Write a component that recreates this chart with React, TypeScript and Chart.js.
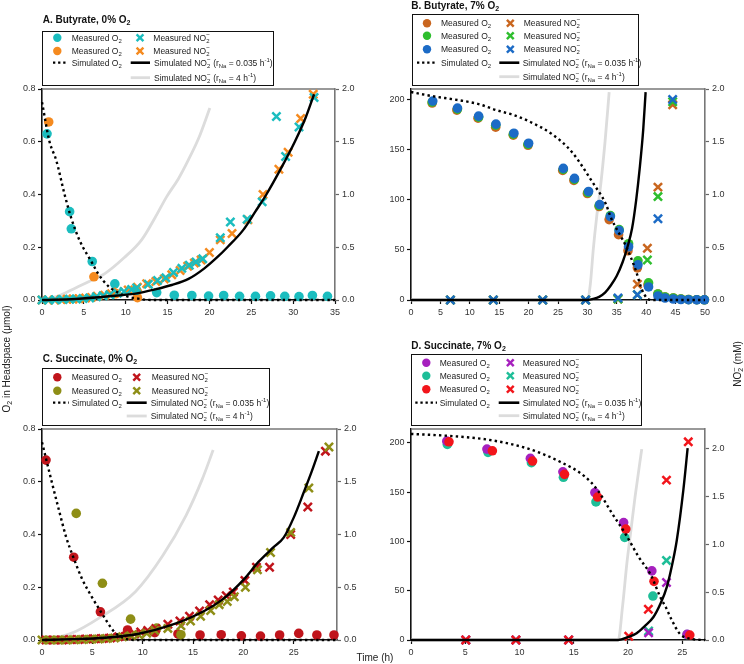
import React, { useEffect, useRef } from 'react';
import { Chart, registerables } from 'chart.js';

Chart.register(...registerables);

const FONT = '"Liberation Sans", Arial, Helvetica, sans-serif';

type Pts = [number, number][];

// ---------- colours ----------
const CYAN = '#1BBDBF';
const ORANGE = '#F58A1F';
const BROWN = '#C9661F';
const GREEN = '#2EBE2E';
const BLUE = '#1C6BC6';
const DARKRED = '#C0141B';
const OLIVE = '#8E8E16';
const PURPLE = '#A620BE';
const TEAL = '#1EBE98';
const RED = '#F2151B';
const SIM_GRAY = '#DCDCDC';

// ---------- tick labels ----------
const A_XTICKS = [0, 5, 10, 15, 20, 25, 30, 35];
const B_XTICKS = [0, 5, 10, 15, 20, 25, 30, 35, 40, 45, 50];
const C_XTICKS = [0, 5, 10, 15, 20, 25];
const D_XTICKS = [0, 5, 10, 15, 20, 25];
const UMOL_TICKS_0 = [0, 0.2, 0.4, 0.6, 0.8];
const UMOL_TICKS_7 = [0, 50, 100, 150, 200];
const MM_TICKS = [0, 0.5, 1.0, 1.5, 2.0];

// ---------- Panel A: Butyrate, 0% O2 ----------
const A_O2_CYAN: Pts = [[0.6, 0.63], [3.3, 0.335], [3.5, 0.27], [6.0, 0.146], [8.7, 0.061], [11.3, 0.037], [13.7, 0.028], [15.8, 0.018], [17.9, 0.017], [19.9, 0.015], [21.7, 0.017], [23.6, 0.014], [25.5, 0.014], [27.3, 0.016], [29.0, 0.014], [30.7, 0.013], [32.3, 0.017], [34.1, 0.014]];
const A_O2_ORANGE: Pts = [[0.8, 0.675], [6.2, 0.088], [8.85, 0.024], [11.4, 0.009]];
const A_NO2_CYAN: Pts = [[0, 0], [0.8, 0], [1.6, 0.002], [2.5, 0.005], [3.3, 0.008], [4.1, 0.01], [4.9, 0.015], [5.7, 0.02], [6.5, 0.03], [7.3, 0.04], [8.1, 0.05], [9.0, 0.065], [9.8, 0.08], [10.7, 0.1], [11.3, 0.115], [12.7, 0.15], [13.8, 0.185], [14.8, 0.21], [15.7, 0.26], [16.7, 0.3], [17.6, 0.33], [18.4, 0.36], [19.2, 0.39], [21.3, 0.59], [22.5, 0.74], [24.5, 0.765], [26.3, 0.93], [28.0, 1.74], [29.1, 1.36], [30.7, 1.64], [32.5, 1.92]];
const A_NO2_ORANGE: Pts = [[0, 0], [0.7, 0], [1.5, 0], [2.3, 0.005], [3.0, 0.008], [3.7, 0.01], [4.4, 0.012], [5.2, 0.018], [5.9, 0.025], [6.6, 0.035], [7.5, 0.045], [8.3, 0.06], [9.1, 0.075], [10.3, 0.095], [11.4, 0.12], [12.5, 0.155], [13.6, 0.175], [14.6, 0.2], [15.5, 0.24], [16.5, 0.28], [17.4, 0.32], [18.2, 0.35], [19.0, 0.38], [20.0, 0.45], [21.3, 0.57], [22.7, 0.63], [24.6, 0.76], [26.4, 1.0], [28.3, 1.24], [29.4, 1.4], [30.9, 1.72], [32.4, 1.95]];
const A_SIM_O2: Pts = [[0, 0.75], [0.9, 0.6], [1.7, 0.53], [2.7, 0.4], [3.5, 0.31], [4.5, 0.225], [6.0, 0.14], [6.7, 0.1], [8.0, 0.05], [8.7, 0.035], [10.0, 0.015], [11.5, 0.005], [13.0, 0], [35, 0]];
const A_SIM_NO2_SLOW: Pts = [[0, 0], [4, 0.01], [8, 0.035], [11.5, 0.065], [13.5, 0.1], [15.5, 0.142], [17.5, 0.2], [19.4, 0.3], [21, 0.41], [22.2, 0.505], [24, 0.66], [25.5, 0.84], [26.8, 1.0], [28.5, 1.24], [30.2, 1.5], [31.5, 1.73], [32.5, 1.95]];
const A_SIM_NO2_FAST: Pts = [[0, 0], [2, 0.04], [3.5, 0.095], [5.5, 0.17], [7.5, 0.25], [9.8, 0.4], [11.9, 0.57], [13.5, 0.78], [14.9, 0.98], [16.3, 1.15], [17.5, 1.33], [18.8, 1.55], [20.05, 1.82]];

// ---------- Panel B: Butyrate, 7% O2 ----------
const B_O2_BROWN: Pts = [[3.6, 196], [7.8, 189], [11.4, 181], [14.4, 172], [17.4, 164], [19.9, 154], [25.8, 129], [27.7, 119], [30.0, 106], [32.0, 93], [33.7, 80], [35.3, 65], [36.9, 49], [38.5, 32], [40.3, 15], [42.0, 6], [43.2, 3], [44.6, 2], [45.9, 1], [47.2, 0.5], [48.6, 0.3], [49.9, 0.2]];
const B_O2_GREEN: Pts = [[3.6, 197], [7.9, 190], [11.5, 182], [14.4, 174], [17.4, 165], [19.9, 155], [25.9, 130], [27.8, 120], [30.1, 107], [32.0, 94], [33.9, 84], [35.4, 70], [37.0, 56], [38.6, 39], [40.4, 17], [42.0, 6], [43.2, 3], [44.6, 2], [45.9, 1], [47.2, 0.5], [48.6, 0.3], [49.9, 0.2]];
const B_O2_BLUE: Pts = [[3.7, 198], [7.9, 191], [11.5, 183], [14.45, 175], [17.5, 166], [20.0, 156], [25.9, 131], [27.8, 121], [30.2, 108], [32.1, 95], [33.9, 83], [35.4, 69], [37.0, 53], [38.6, 35], [40.4, 13], [42.0, 4], [43.2, 2], [44.6, 1], [45.9, 0.5], [47.2, 0.3], [48.6, 0.2], [49.9, 0.2]];
const B_NO2_BROWN: Pts = [[6.7, 0], [14.0, 0], [22.4, 0], [29.7, 0], [35.2, 0.01], [38.5, 0.15], [40.2, 0.49], [42.0, 1.07], [44.5, 1.85]];
const B_NO2_GREEN: Pts = [[6.7, 0], [14.0, 0], [22.4, 0], [29.7, 0], [35.2, 0.01], [38.5, 0.05], [40.2, 0.38], [42.0, 0.98], [44.5, 1.88]];
const B_NO2_BLUE: Pts = [[6.7, 0], [14.0, 0], [22.4, 0], [29.7, 0], [35.2, 0.02], [38.5, 0.05], [42.0, 0.77], [44.5, 1.9]];
const B_SIM_O2: Pts = [[0, 207], [3.5, 203], [8, 199], [11.5, 195], [14.5, 189], [17.5, 184], [20, 178], [24, 165], [27.4, 147], [31, 116], [33.1, 96], [34, 82], [36.6, 53], [38.2, 30], [39.3, 10], [40.3, 1], [41, 0], [50, 0]];
const B_SIM_NO2_SLOW: Pts = [[0, 0], [30, 0], [31, 0.01], [32, 0.03], [33, 0.07], [34, 0.14], [35, 0.23], [36, 0.36], [36.8, 0.5], [37.6, 0.68], [38.3, 0.95], [38.9, 1.25], [39.5, 1.62], [39.9, 1.97]];
const B_SIM_NO2_FAST: Pts = [[0, 0], [30, 0], [30.5, 0.15], [31, 0.48], [31.6, 0.8], [32.2, 1.06], [33, 1.5], [33.7, 1.97]];

// ---------- Panel C: Succinate, 0% O2 ----------
const C_O2_DARKRED: Pts = [[0.4, 0.682], [3.15, 0.314], [5.8, 0.107], [8.5, 0.038], [11.2, 0.028], [13.5, 0.023], [15.7, 0.019], [17.8, 0.02], [19.8, 0.016], [21.7, 0.015], [23.6, 0.019], [25.5, 0.025], [27.3, 0.019], [29.0, 0.019]];
const C_O2_OLIVE: Pts = [[3.4, 0.48], [6.0, 0.215], [8.8, 0.079], [11.4, 0.045], [13.8, 0.02]];
const C_NO2_DARKRED: Pts = [[0.4, 0], [1.2, 0], [2.0, 0], [2.8, 0.005], [3.6, 0.005], [4.4, 0.01], [5.2, 0.012], [6.0, 0.015], [6.8, 0.02], [7.6, 0.03], [8.4, 0.04], [9.2, 0.06], [9.8, 0.075], [10.5, 0.09], [11.3, 0.11], [12.5, 0.15], [13.7, 0.18], [14.65, 0.225], [15.65, 0.275], [16.65, 0.335], [17.5, 0.38], [18.3, 0.42], [19.0, 0.455], [20.15, 0.565], [21.3, 0.69], [22.6, 0.69], [24.7, 1.0], [26.4, 1.26], [28.15, 1.79]];
const C_NO2_OLIVE: Pts = [[0, 0], [0.8, 0], [1.6, 0], [2.4, 0], [3.2, 0.003], [4.0, 0.005], [4.8, 0.008], [5.6, 0.01], [6.4, 0.015], [7.2, 0.02], [8.0, 0.03], [8.8, 0.04], [9.6, 0.05], [10.4, 0.065], [11.2, 0.09], [12.5, 0.11], [13.8, 0.135], [14.75, 0.18], [15.75, 0.225], [16.75, 0.28], [17.6, 0.335], [18.4, 0.365], [19.1, 0.41], [20.2, 0.5], [21.4, 0.665], [22.7, 0.83], [24.7, 1.02], [26.5, 1.44], [28.5, 1.83]];
const C_SIM_O2: Pts = [[0, 0.75], [0.9, 0.61], [1.7, 0.49], [2.4, 0.39], [3.15, 0.31], [4.0, 0.23], [5.0, 0.16], [5.8, 0.11], [7.2, 0.03], [8.2, 0.006], [9.5, 0], [29.3, 0]];
const C_SIM_NO2_SLOW: Pts = [[0, 0], [3, 0.008], [6.2, 0.022], [9.5, 0.057], [12.8, 0.14], [16.2, 0.28], [18, 0.39], [20.1, 0.58], [21.5, 0.74], [23, 0.88], [24, 0.97], [25, 1.16], [26, 1.4], [26.8, 1.6], [27.5, 1.79]];
const C_SIM_NO2_FAST: Pts = [[0, 0], [2.9, 0.063], [5.7, 0.21], [9.3, 0.46], [12, 0.8], [14.3, 1.18], [15.9, 1.52], [17, 1.8]];

// ---------- Panel D: Succinate, 7% O2 ----------
const D_O2_PURPLE: Pts = [[3.3, 201.7], [7.0, 193.6], [11.0, 184.2], [14.0, 170.6], [16.95, 149.5], [19.6, 119.1], [22.2, 70.1], [25.45, 5.8]];
const D_O2_TEAL: Pts = [[3.35, 198.4], [7.1, 190.3], [11.1, 179.8], [14.05, 165], [17.05, 140], [19.7, 104.1], [22.3, 44.6], [25.45, 5.5]];
const D_O2_RED: Pts = [[3.5, 201], [7.5, 191.9], [11.2, 181.5], [14.15, 168], [17.2, 145], [19.8, 112.5], [22.4, 59.5], [25.7, 5]];
const D_NO2_PURPLE: Pts = [[5.05, 0], [9.67, 0], [14.53, 0], [21.9, 0.075], [23.55, 0.6]];
const D_NO2_TEAL: Pts = [[5.05, 0], [9.67, 0], [14.53, 0], [21.9, 0.094], [23.55, 0.83]];
const D_NO2_RED: Pts = [[5.05, 0], [9.67, 0], [14.53, 0], [20.07, 0.04], [21.88, 0.32], [23.55, 1.667], [25.56, 2.066]];
const D_SIM_O2: Pts = [[0, 209], [3.5, 207], [7.2, 203], [10.8, 194], [13.7, 181], [16, 166], [17.2, 152], [18.5, 129], [19.8, 107], [21, 84], [22.1, 66], [23, 43], [23.5, 33], [24, 21], [24.8, 6], [25.9, 1], [27.1, 0]];
const D_SIM_NO2_SLOW: Pts = [[0, 0], [19.1, 0], [20, 0.03], [20.8, 0.07], [21.5, 0.14], [22.35, 0.24], [23, 0.38], [23.6, 0.56], [24.1, 0.8], [24.5, 1.04], [25.1, 1.56], [25.5, 2.0]];
const D_SIM_NO2_FAST: Pts = [[0, 0], [19.1, 0], [19.5, 0.35], [19.9, 0.8], [20.3, 1.17], [20.65, 1.49], [21.27, 1.99]];

// ---------- dataset helpers ----------
const toXY = (p: Pts) => p.map(([x, y]) => ({ x, y }));

const circles = (p: Pts, color: string) => ({
  data: toXY(p), yAxisID: 'y', showLine: false, pointStyle: 'circle', pointRadius: 4.8,
  pointBackgroundColor: color, pointBorderColor: color, pointBorderWidth: 0, clip: false,
});
const crosses = (p: Pts, color: string) => ({
  data: toXY(p), yAxisID: 'y2', showLine: false, pointStyle: 'crossRot', pointRadius: 5.8,
  pointBorderColor: color, pointBackgroundColor: color, pointBorderWidth: 2.5, clip: false,
});
const simLine = (p: Pts, axis: string, color: string, width: number, dash: number[]) => ({
  data: toXY(p), yAxisID: axis, showLine: true, pointRadius: 0, borderColor: color,
  borderWidth: width, borderDash: dash, cubicInterpolationMode: 'monotone', borderCapStyle: 'butt', clip: false,
});

interface PanelSpec {
  cx: number; cy: number; cw: number; ch: number;
  l: number; t: number; r: number; b: number;
  xMax: number; yMax: number; y2Max: number;
  xTicks: number[]; yTicks: number[]; y2Ticks: number[];
  yDec: number;
  datasets: any[];
}

const framePlugin = {
  id: 'topFrame',
  beforeDatasetsDraw(chart: any) {
    const { ctx, chartArea } = chart;
    ctx.save();
    ctx.strokeStyle = '#777777';
    ctx.lineWidth = 1.5;
    ctx.beginPath();
    ctx.moveTo(chartArea.left, chartArea.top);
    ctx.lineTo(chartArea.right, chartArea.top);
    ctx.stroke();
    ctx.restore();
  },
};

const tickFont = { family: FONT, size: 9 };

function ChartPanel({ spec }: { spec: PanelSpec }) {
  const ref = useRef<HTMLCanvasElement>(null);
  useEffect(() => {
    if (!ref.current) return;
    const s = spec;
    const setTicks = (vals: number[]) => (scale: any) => {
      scale.ticks = vals.map((v) => ({ value: v }));
    };
    const chart = new Chart(ref.current, {
      type: 'scatter',
      data: { datasets: s.datasets },
      plugins: [framePlugin],
      options: {
        animation: false,
        responsive: false,
        devicePixelRatio: 1,
        events: [],
        layout: { padding: { top: s.t - s.cy, left: 0, right: 0, bottom: 0 } },
        plugins: { legend: { display: false }, tooltip: { enabled: false } },
        scales: {
          x: {
            type: 'linear', min: 0, max: s.xMax,
            afterBuildTicks: setTicks(s.xTicks),
            afterFit: (sc: any) => { sc.height = s.cy + s.ch - s.b; },
            ticks: { font: tickFont, color: '#333', padding: 3, maxRotation: 0, autoSkip: false, callback: (v: any) => String(v) },
            grid: { drawOnChartArea: false, drawTicks: true, tickLength: 4, tickColor: '#111', tickWidth: 1.2 },
            border: { color: '#111', width: 1.6 },
          },
          y: {
            type: 'linear', position: 'left', min: 0, max: s.yMax,
            afterBuildTicks: setTicks(s.yTicks),
            afterFit: (sc: any) => { sc.width = s.l - s.cx; },
            ticks: { font: tickFont, color: '#333', padding: 2.5, callback: (v: any) => Number(v).toFixed(s.yDec) },
            grid: { drawOnChartArea: false, drawTicks: true, tickLength: 4, tickColor: '#111', tickWidth: 1.2 },
            border: { color: '#111', width: 1.6 },
          },
          y2: {
            type: 'linear', position: 'right', min: 0, max: s.y2Max,
            afterBuildTicks: setTicks(s.y2Ticks),
            afterFit: (sc: any) => { sc.width = s.cx + s.cw - s.r; },
            ticks: { font: tickFont, color: '#333', padding: 3, callback: (v: any) => Number(v).toFixed(1) },
            grid: { drawOnChartArea: false, drawTicks: true, tickLength: 4, tickColor: '#666', tickWidth: 1.2 },
            border: { color: '#777', width: 1.6 },
          },
        },
      } as any,
    } as any);
    return () => chart.destroy();
  }, [spec]);
  return (
    <canvas
      ref={ref}
      width={spec.cw}
      height={spec.ch}
      style={{ position: 'absolute', left: spec.cx, top: spec.cy, width: spec.cw, height: spec.ch }}
    />
  );
}

const PANEL_A: PanelSpec = {
  cx: 0, cy: 80, cw: 372, ch: 250, l: 42, t: 89, r: 335, b: 300,
  xMax: 35, yMax: 0.8, y2Max: 2.0, xTicks: A_XTICKS, yTicks: UMOL_TICKS_0, y2Ticks: MM_TICKS, yDec: 1,
  datasets: [
    simLine(A_SIM_O2, 'y', '#000', 2.4, [2.4, 3.2]),
    simLine(A_SIM_NO2_SLOW, 'y2', '#000', 2.4, []),
    crosses(A_NO2_CYAN, CYAN),
    crosses(A_NO2_ORANGE, ORANGE),
    circles(A_O2_CYAN, CYAN),
    circles(A_O2_ORANGE, ORANGE),
    simLine(A_SIM_NO2_FAST, 'y2', SIM_GRAY, 2.8, []),
  ],
};

const PANEL_B: PanelSpec = {
  cx: 372, cy: 80, cw: 372, ch: 250, l: 411, t: 89, r: 705, b: 300,
  xMax: 50, yMax: 210, y2Max: 2.0, xTicks: B_XTICKS, yTicks: UMOL_TICKS_7, y2Ticks: MM_TICKS, yDec: 0,
  datasets: [
    simLine(B_SIM_O2, 'y', '#000', 2.4, [2.4, 3.2]),
    simLine(B_SIM_NO2_SLOW, 'y2', '#000', 2.4, []),
    crosses(B_NO2_BLUE, BLUE),
    crosses(B_NO2_GREEN, GREEN),
    crosses(B_NO2_BROWN, BROWN),
    circles(B_O2_BLUE, BLUE),
    circles(B_O2_GREEN, GREEN),
    circles(B_O2_BROWN, BROWN),
    simLine(B_SIM_NO2_FAST, 'y2', SIM_GRAY, 2.8, []),
  ],
};

const PANEL_C: PanelSpec = {
  cx: 0, cy: 420, cw: 372, ch: 244, l: 42, t: 429, r: 337, b: 640,
  xMax: 29.3, yMax: 0.8, y2Max: 2.0, xTicks: C_XTICKS, yTicks: UMOL_TICKS_0, y2Ticks: MM_TICKS, yDec: 1,
  datasets: [
    simLine(C_SIM_O2, 'y', '#000', 2.4, [2.4, 3.2]),
    simLine(C_SIM_NO2_SLOW, 'y2', '#000', 2.4, []),
    crosses(C_NO2_OLIVE, OLIVE),
    crosses(C_NO2_DARKRED, DARKRED),
    circles(C_O2_OLIVE, OLIVE),
    circles(C_O2_DARKRED, DARKRED),
    simLine(C_SIM_NO2_FAST, 'y2', SIM_GRAY, 2.8, []),
  ],
};

const PANEL_D: PanelSpec = {
  cx: 372, cy: 420, cw: 372, ch: 244, l: 411, t: 429, r: 705, b: 640,
  xMax: 27.1, yMax: 214, y2Max: 2.2, xTicks: D_XTICKS, yTicks: UMOL_TICKS_7, y2Ticks: MM_TICKS, yDec: 0,
  datasets: [
    simLine(D_SIM_O2, 'y', '#000', 2.4, [2.4, 3.2]),
    simLine(D_SIM_NO2_SLOW, 'y2', '#000', 2.4, []),
    crosses(D_NO2_RED, RED),
    crosses(D_NO2_PURPLE, PURPLE),
    crosses(D_NO2_TEAL, TEAL),
    circles(D_O2_RED, RED),
    circles(D_O2_PURPLE, PURPLE),
    circles(D_O2_TEAL, TEAL),
    simLine(D_SIM_NO2_FAST, 'y2', SIM_GRAY, 2.8, []),
  ],
};

// ---------- text helpers ----------
const SUB: React.CSSProperties = { fontSize: '0.7em', lineHeight: 0, verticalAlign: '-0.35em' };
const MINUS: React.CSSProperties = { fontSize: '0.75em', lineHeight: 0, position: 'relative', top: '-0.6em', marginLeft: '-0.5em' };
const SUP1: React.CSSProperties = { fontSize: '0.7em', lineHeight: 0, verticalAlign: '0.6em' };
const O2 = () => <>O<sub style={SUB}>2</sub></>;
const NO2 = () => <>NO<sub style={SUB}>2</sub><span style={MINUS}>−</span></>;

const L_MO2 = <>Measured <O2 /></>;
const L_MNO2 = <>Measured <NO2 /></>;
const L_SO2 = <>Simulated <O2 /></>;
const L_SLOW = <>Simulated <NO2 />&nbsp;(r<sub style={SUB}>Na</sub> = 0.035 h<sup style={SUP1}>-1</sup>)</>;
const L_FAST = <>Simulated <NO2 />&nbsp;(r<sub style={SUB}>Na</sub> = 4 h<sup style={SUP1}>-1</sup>)</>;

type LItem = { t: 'c' | 'x' | 'dot' | 'solid' | 'gray'; color?: string; mx: number; mx2?: number; y: number; tx: number; label: React.ReactNode };
type LegendSpec = { box: [number, number, number, number]; items: LItem[] };

function legendFor(
  box: [number, number, number, number],
  rows: number[],
  colors: string[],
  cX: number, cTx: number, xX: number, xTx: number,
  dX1: number, dX2: number, sX1: number, sX2: number, sTx: number,
): LegendSpec {
  const items: LItem[] = [];
  colors.forEach((col, i) => {
    items.push({ t: 'c', color: col, mx: cX, y: rows[i], tx: cTx, label: L_MO2 });
    items.push({ t: 'x', color: col, mx: xX, y: rows[i], tx: xTx, label: L_MNO2 });
  });
  const n = colors.length;
  items.push({ t: 'dot', mx: dX1, mx2: dX2, y: rows[n], tx: cTx, label: L_SO2 });
  items.push({ t: 'solid', mx: sX1, mx2: sX2, y: rows[n], tx: sTx, label: L_SLOW });
  items.push({ t: 'gray', mx: sX1, mx2: sX2, y: rows[n + 1], tx: sTx, label: L_FAST });
  return { box, items };
}

const LEGENDS: LegendSpec[] = [
  legendFor([41.7, 30.7, 274, 86], [37.7, 51, 62.7, 77.7], [CYAN, ORANGE], 57.3, 71.7, 140, 153.3, 53, 68, 130.7, 150, 154),
  legendFor([412, 14.3, 638.7, 86], [23.3, 35.7, 49.3, 62.7, 76.7], [BROWN, GREEN, BLUE], 427, 441, 510.3, 523.7, 417, 437, 499.3, 519.3, 522.7),
  legendFor([41.7, 367.7, 270, 426], [377.3, 390.7, 402.7, 416], [DARKRED, OLIVE], 57.3, 71.7, 136.7, 151.7, 53, 69, 126.7, 146.7, 150.7),
  legendFor([411.3, 354, 642, 426], [362.7, 375.7, 389.3, 402.7, 415.7], [PURPLE, TEAL, RED], 426.3, 439.7, 510.3, 522.7, 415.3, 437, 498.7, 519.3, 522.7),
];

const TITLES: { x: number; y: number; text: React.ReactNode }[] = [
  { x: 42.7, y: 15.4, text: <>A. Butyrate, 0% <O2 /></> },
  { x: 411.3, y: 1.1, text: <>B. Butyrate, 7% <O2 /></> },
  { x: 42.7, y: 353.9, text: <>C. Succinate, 0% <O2 /></> },
  { x: 411.3, y: 340.8, text: <>D. Succinate, 7% <O2 /></> },
];

const LEGEND_FONT = 8.5;

function LegendMarks() {
  const els: React.ReactNode[] = [];
  LEGENDS.forEach((lg, li) => {
    lg.items.forEach((it, i) => {
      const k = `${li}-${i}`;
      if (it.t === 'c') {
        els.push(<circle key={k} cx={it.mx} cy={it.y} r={4.2} fill={it.color} />);
      } else if (it.t === 'x') {
        const d = 3.4;
        els.push(
          <g key={k} stroke={it.color} strokeWidth={2.4}>
            <line x1={it.mx - d} y1={it.y - d} x2={it.mx + d} y2={it.y + d} />
            <line x1={it.mx - d} y1={it.y + d} x2={it.mx + d} y2={it.y - d} />
          </g>,
        );
      } else if (it.t === 'dot') {
        els.push(<line key={k} x1={it.mx} y1={it.y} x2={it.mx2} y2={it.y} stroke="#000" strokeWidth={2.3} strokeDasharray="2.3 2.8" />);
      } else if (it.t === 'solid') {
        els.push(<line key={k} x1={it.mx} y1={it.y} x2={it.mx2} y2={it.y} stroke="#000" strokeWidth={2.6} />);
      } else {
        els.push(<line key={k} x1={it.mx} y1={it.y} x2={it.mx2} y2={it.y} stroke={SIM_GRAY} strokeWidth={2.8} />);
      }
    });
  });
  return (
    <svg width={744} height={664} style={{ position: 'absolute', left: 0, top: 0, pointerEvents: 'none' }}>
      {els}
    </svg>
  );
}

export default function App() {
  return (
    <div style={{ position: 'absolute', left: 0, top: 0, width: 744, height: 664, background: '#fff', overflow: 'hidden', fontFamily: FONT }}>
      <ChartPanel spec={PANEL_A} />
      <ChartPanel spec={PANEL_B} />
      <ChartPanel spec={PANEL_C} />
      <ChartPanel spec={PANEL_D} />

      {LEGENDS.map((lg, i) => (
        <div
          key={`box${i}`}
          style={{
            position: 'absolute', left: lg.box[0], top: lg.box[1], width: lg.box[2] - lg.box[0], height: lg.box[3] - lg.box[1],
            border: '1.4px solid #111', boxSizing: 'border-box', background: '#fff',
          }}
        />
      ))}
      <LegendMarks />
      {LEGENDS.map((lg, li) =>
        lg.items.map((it, i) => (
          <div
            key={`t${li}-${i}`}
            style={{ position: 'absolute', left: it.tx, top: it.y - 0.489 * LEGEND_FONT, fontSize: LEGEND_FONT, lineHeight: `${LEGEND_FONT}px`, color: '#222', whiteSpace: 'nowrap' }}
          >
            {it.label}
          </div>
        )),
      )}

      {TITLES.map((t, i) => (
        <div key={`title${i}`} style={{ position: 'absolute', left: t.x, top: t.y, fontSize: 10, lineHeight: '10px', fontWeight: 'bold', color: '#111', whiteSpace: 'nowrap' }}>
          {t.text}
        </div>
      ))}

      <div style={{ position: 'absolute', left: 7, top: 359, transform: 'translate(-50%, -50%) rotate(-90deg)', fontSize: 10, lineHeight: '10px', color: '#222', whiteSpace: 'nowrap' }}>
        <O2 /> in Headspace (μmol)
      </div>
      <div style={{ position: 'absolute', left: 738, top: 364, transform: 'translate(-50%, -50%) rotate(-90deg)', fontSize: 10, lineHeight: '10px', color: '#222', whiteSpace: 'nowrap' }}>
        <NO2 /> (mM)
      </div>
      <div style={{ position: 'absolute', left: 375, top: 658, transform: 'translate(-50%, -50%)', fontSize: 10, lineHeight: '10px', color: '#222', whiteSpace: 'nowrap' }}>
        Time (h)
      </div>
    </div>
  );
}
